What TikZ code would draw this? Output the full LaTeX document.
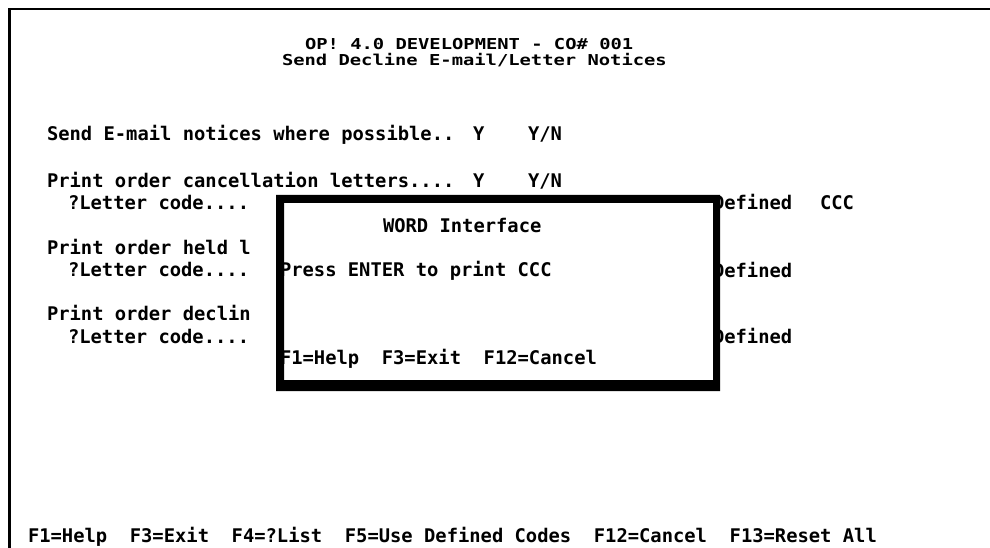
\documentclass[tikz,border=0pt]{standalone}
\usepackage{fontspec}
\newfontfamily\scr{DejaVu Sans Mono}[BoldFont={DejaVu Sans Mono Bold}]
\tikzset{
  txt/.style={anchor=base west, inner sep=0pt, outer sep=0pt,
              font=\scr\bfseries\fontsize{18.8}{22}\selectfont},
  frameline/.style={line width=2.5pt, black},
}
% heading lines are set a little flatter so the two rows sit close together
\newcommand{\flatrow}[1]{\scalebox{1}[0.8]{#1}}
\begin{document}
\begin{tikzpicture}[x=1pt, y=-1pt]
  \useasboundingbox (0,0) rectangle (990,548);
  \fill[white] (0,0) rectangle (990,548);

  % screen frame (left and top edges)
  \coordinate (fb) at (9.5,548);
  \coordinate (fc) at (9.5,9);
  \coordinate (fr) at (990,9);
  \draw[frameline] (fb) -- (fc) -- (fr);

  % heading
  \node[txt] (title1) at (305,50) {\flatrow{OP! 4.0 DEVELOPMENT - CO\# 001}};
  \node[txt] (title2) at (282,66) {\flatrow{Send Decline E-mail/Letter Notices}};

  % prompts
  \node[txt] (email)  at (47,141) {Send E-mail notices where possible..};
  \node[txt] (emailv) at (473,141) {Y};
  \node[txt] (emailh) at (528,141) {Y/N};

  \node[txt] (cancel)  at (47,188) {Print order cancellation letters....};
  \node[txt] (cancelv) at (473,188) {Y};
  \node[txt] (cancelh) at (528,188) {Y/N};
  \node[txt] (code1)   at (68,210) {?Letter code....};
  \node[txt] (def1)    at (713,210) {Defined};
  \node[txt] (ccc1)    at (820,210) {CCC};

  \node[txt] (held)  at (47,254) {Print order held l};
  \node[txt] (code2) at (68,276) {?Letter code....};
  \node[txt] (def2)  at (713,277) {Defined};

  \node[txt] (decl)  at (47,320) {Print order declin};
  \node[txt] (code3) at (68,343) {?Letter code....};
  \node[txt] (def3)  at (713,343) {Defined};

  % function keys
  \node[txt] (keys) at (28,542) {F1=Help~~F3=Exit~~F4=?List~~F5=Use Defined Codes~~F12=Cancel~~F13=Reset All};

  % pop-up window
  \fill[white] (284,203) rectangle (713,380);
  \node[txt] (wtitle) at (383,232) {WORD Interface};
  \node[txt] (wmsg)   at (280,276) {Press ENTER to print CCC};
  \node[txt] (wkeys)  at (280,364) {F1=Help~~F3=Exit~~F12=Cancel};
  \fill[black, even odd rule] (276,195) rectangle (720,391)
                              (284,203) rectangle (713,380);
\end{tikzpicture}
\end{document}
